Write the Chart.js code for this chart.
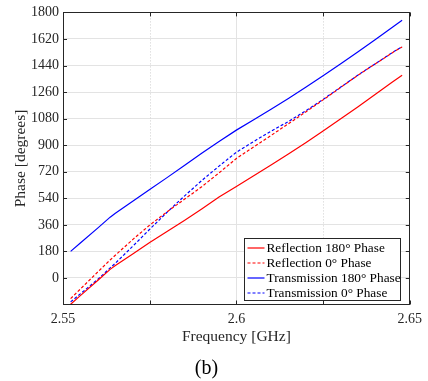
<!DOCTYPE html>
<html>
<head>
<meta charset="utf-8">
<script src="https://cdn.jsdelivr.net/npm/chart.js@4.4.0/dist/chart.umd.min.js"></script>
<style>
  html, body { margin: 0; padding: 0; background: #fff; }
  #wrap { width: 428px; height: 381px; }
</style>
</head>
<body>
<div id="wrap"><canvas id="phaseChart" width="428" height="381"></canvas></div>
<script>
// frequency samples [GHz]
const freq = [2.5522, 2.555, 2.56, 2.5636, 2.565, 2.57, 2.575, 2.58, 2.585, 2.59, 2.595,
  2.6, 2.605, 2.61, 2.615, 2.62, 2.625, 2.63, 2.635, 2.64, 2.645, 2.6478];

// phase [degrees]
const refl180 = [-178, -120, -17, 58, 82, 160, 240, 315, 390, 468, 548,
  620, 692, 765, 840, 917, 996, 1077, 1159, 1243, 1328, 1374];
const refl0 = [-140, -75, 40, 122, 152, 258, 358, 448, 533, 618, 712,
  810, 888, 966, 1045, 1125, 1207, 1290, 1373, 1450, 1527, 1566];
const trans180 = [180, 237, 338, 412, 437, 518, 600, 680, 762, 845, 925,
  1002, 1072, 1144, 1217, 1293, 1371, 1451, 1532, 1615, 1700, 1747];
const trans0 = [-162, -108, -10, 68, 98, 212, 330, 445, 555, 660, 758,
  852, 925, 995, 1060, 1133, 1210, 1292, 1374, 1451, 1528, 1568];

const yTicks = [0, 180, 360, 540, 720, 900, 1080, 1260, 1440, 1620, 1800];
const xTicks = [2.55, 2.6, 2.65];
const xMinor = [2.575, 2.625];

const axisColor = '#262626';
Chart.defaults.font.family = '"Liberation Serif", "Times New Roman", serif';
Chart.defaults.color = axisColor;

function pts(ys) {
  return freq.map((f, i) => ({ x: f, y: ys[i] }));
}

// box, inner ticks, minor grid and the legend inside the axes
const framePlugin = {
  id: 'frame',
  beforeDatasetsDraw(chart) {
    const { ctx, chartArea: a, scales: { x } } = chart;
    ctx.save();
    ctx.strokeStyle = '#cfcfcf';
    ctx.lineWidth = 1;
    ctx.setLineDash([1, 2]);
    xMinor.forEach(v => {
      const px = Math.round(x.getPixelForValue(v)) + 0.5;
      ctx.beginPath();
      ctx.moveTo(px, a.top);
      ctx.lineTo(px, a.bottom);
      ctx.stroke();
    });
    ctx.restore();
  },
  afterDraw(chart) {
    const { ctx, chartArea: a, scales: { x, y } } = chart;
    ctx.save();
    ctx.strokeStyle = axisColor;
    ctx.lineWidth = 1;
    ctx.strokeRect(Math.round(a.left) + 0.5, Math.round(a.top) + 0.5,
      Math.round(a.right - a.left) - 1, Math.round(a.bottom - a.top));
    const tl = 4;
    ctx.beginPath();
    yTicks.forEach(v => {
      const py = Math.round(y.getPixelForValue(v)) + 0.5;
      ctx.moveTo(a.left, py); ctx.lineTo(a.left + tl, py);
      ctx.moveTo(a.right, py); ctx.lineTo(a.right - tl, py);
    });
    xTicks.concat(xMinor).forEach(v => {
      const px = Math.round(x.getPixelForValue(v)) + 0.5;
      ctx.moveTo(px, a.bottom); ctx.lineTo(px, a.bottom - tl);
      ctx.moveTo(px, a.top); ctx.lineTo(px, a.top + tl);
    });
    ctx.stroke();

    // legend
    const bx = Math.round(a.right - 166) + 0.5, by = Math.round(a.bottom - 67) + 0.5;
    const bw = 156, bh = 62;
    ctx.fillStyle = '#fff';
    ctx.fillRect(bx, by, bw, bh);
    ctx.strokeStyle = axisColor;
    ctx.strokeRect(bx, by, bw, bh);
    ctx.font = '13.3px "Liberation Serif", serif';
    ctx.textBaseline = 'middle';
    chart.data.datasets.forEach((ds, i) => {
      const ry = by + 9.5 + i * 15;
      ctx.strokeStyle = ds.borderColor;
      ctx.lineWidth = 1.2;
      ctx.setLineDash(ds.borderDash || []);
      ctx.beginPath();
      ctx.moveTo(bx + 3, ry); ctx.lineTo(bx + 20, ry);
      ctx.stroke();
      ctx.setLineDash([]);
      ctx.fillStyle = '#000';
      ctx.fillText(ds.label, bx + 22, ry + 0.5);
    });
    ctx.restore();
  }
};

new Chart(document.getElementById('phaseChart'), {
  type: 'line',
  data: {
    datasets: [
      { label: 'Reflection 180\u00b0 Phase', data: pts(refl180), borderColor: '#ff0000' },
      { label: 'Reflection 0\u00b0 Phase', data: pts(refl0), borderColor: '#ff0000', borderDash: [3, 2] },
      { label: 'Transmission 180\u00b0 Phase', data: pts(trans180), borderColor: '#0000ff' },
      { label: 'Transmission 0\u00b0 Phase', data: pts(trans0), borderColor: '#0000ff', borderDash: [3, 2] }
    ]
  },
  options: {
    responsive: false,
    animation: false,
    layout: { padding: { left: 0, right: 15, top: 11, bottom: 0 } },
    elements: {
      line: { borderWidth: 1.2, tension: 0 },
      point: { radius: 0 }
    },
    plugins: {
      legend: { display: false },
      tooltip: { enabled: false },
      title: {
        display: true,
        position: 'bottom',
        text: '(b)',
        color: '#000',
        font: { size: 20, weight: 'normal' },
        padding: { top: 9.5, bottom: 0 }
      }
    },
    scales: {
      x: {
        type: 'linear',
        min: 2.55,
        max: 2.65,
        afterBuildTicks: s => { s.ticks = xTicks.map(v => ({ value: v })); },
        afterFit: s => { s.height = 43; },
        ticks: { font: { size: 14 }, padding: 6, maxRotation: 0, callback: v => String(v) },
        grid: { color: '#e3e3e3', drawTicks: false },
        border: { display: false },
        title: { display: true, text: 'Frequency [GHz]', font: { size: 15.5 }, padding: { top: 0, bottom: 1.2 } }
      },
      y: {
        min: -180,
        max: 1800,
        afterBuildTicks: s => { s.ticks = yTicks.map(v => ({ value: v })); },
        afterFit: s => { s.width = 63; },
        ticks: { font: { size: 14 }, padding: 4, callback: v => String(v) },
        grid: { color: '#e3e3e3', drawTicks: false },
        border: { display: false },
        title: { display: true, text: 'Phase [degrees]', font: { size: 15.5 }, padding: { top: 11.7, bottom: 0 } }
      }
    }
  },
  plugins: [framePlugin]
});
</script>
</body>
</html>
